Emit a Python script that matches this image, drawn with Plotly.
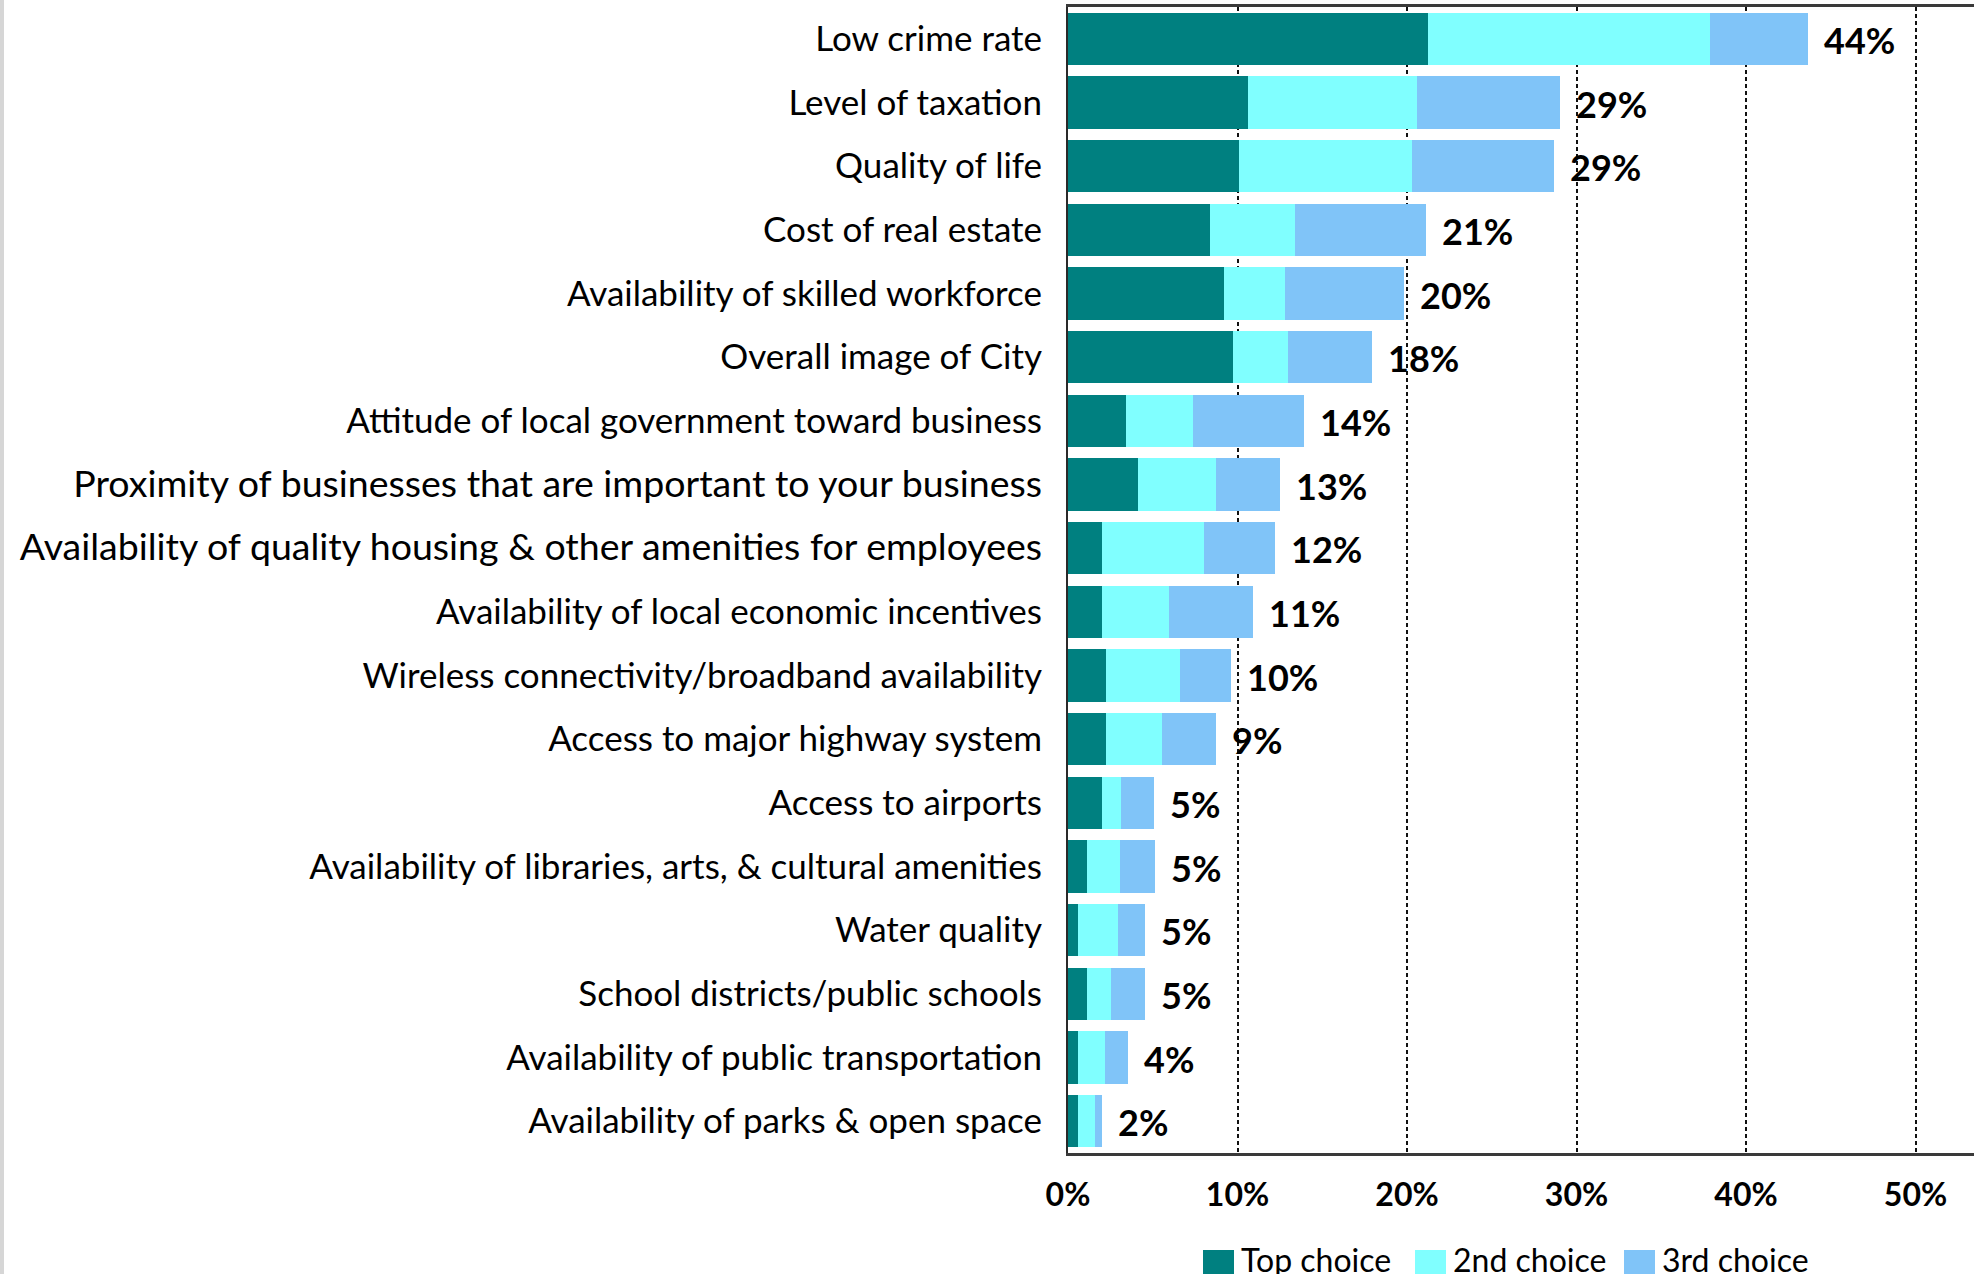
import plotly.graph_objects as go

# Survey: most important factors for business location (share of respondents)
categories = [
    "Low crime rate",
    "Level of taxation",
    "Quality of life",
    "Cost of real estate",
    "Availability of skilled workforce",
    "Overall image of City",
    "Attitude of local government toward business",
    "Proximity of businesses that are important to your business",
    "Availability of quality housing & other amenities for employees",
    "Availability of local economic incentives",
    "Wireless connectivity/broadband availability",
    "Access to major highway system",
    "Access to airports",
    "Availability of libraries, arts, & cultural amenities",
    "Water quality",
    "School districts/public schools",
    "Availability of public transportation",
    "Availability of parks & open space",
]

top_choice = [21.25, 10.6, 10.1, 8.4, 9.2, 9.76, 3.4, 4.13, 2.0, 2.0, 2.22, 2.22, 2.0, 1.12, 0.59, 1.12, 0.59, 0.59]
second_choice = [16.6, 10.0, 10.2, 5.0, 3.6, 3.23, 3.96, 4.62, 6.0, 3.96, 4.38, 3.33, 1.15, 1.94, 2.37, 1.41, 1.61, 0.98]
third_choice = [5.8, 8.4, 8.4, 7.75, 7.0, 4.93, 6.56, 3.78, 4.2, 4.93, 3.02, 3.2, 1.95, 2.06, 1.59, 2.02, 1.35, 0.43]

series_names = ["Top choice", "2nd choice", "3rd choice"]
series_colors = ["#008080", "#80FFFF", "#80C4F8"]
x_ticks = [0, 10, 20, 30, 40, 50]

# two long labels are set in a slightly larger size
large_labels = {
    "Proximity of businesses that are important to your business",
    "Availability of quality housing & other amenities for employees",
}

totals = [a + b + c for a, b, c in zip(top_choice, second_choice, third_choice)]

W, H = 1974, 1274
L, R, T, B = 1068, 0, 7, 121
plot_w = W - L - R
plot_h = H - T - B
px_per_pct = 16.95
x_max = plot_w / px_per_pct

FONT = "Lato"
TXT = "#000000"

fig = go.Figure()
for name, vals, col in zip(series_names, [top_choice, second_choice, third_choice], series_colors):
    fig.add_trace(go.Bar(
        y=categories, x=vals, name=name, orientation="h",
        marker=dict(color=col, line=dict(width=0)),
        showlegend=False,
    ))

# total labels to the right of each stacked bar
for cat, tot in zip(categories, totals):
    fig.add_annotation(
        x=tot, y=cat, xref="x", yref="y",
        text=f"{tot:.0f}%", showarrow=False,
        xanchor="left", yanchor="middle", xshift=14, yshift=-1,
        font=dict(family=FONT, size=36, color=TXT, weight="bold"),
    )


def to_paper_x(px):
    return (px - L) / plot_w


def to_paper_y(py):
    return (H - B - py) / plot_h


# legend row along the bottom
legend_x = [1203, 1415, 1624]
for name, col, lx in zip(series_names, series_colors, legend_x):
    fig.add_shape(
        type="rect", xref="paper", yref="paper",
        x0=to_paper_x(lx), x1=to_paper_x(lx + 31),
        y0=to_paper_y(1250), y1=to_paper_y(1274),
        fillcolor=col, line=dict(width=0), layer="above",
    )
    fig.add_annotation(
        x=to_paper_x(lx + 36), y=to_paper_y(1259), xref="paper", yref="paper",
        text=name, showarrow=False, xanchor="left", yanchor="middle",
        font=dict(family=FONT, size=32, color=TXT),
    )

# thin grey strip on the far left edge
fig.add_shape(
    type="rect", xref="paper", yref="paper",
    x0=to_paper_x(0), x1=to_paper_x(4),
    y0=to_paper_y(H), y1=to_paper_y(0),
    fillcolor="#d6d6d6", line=dict(width=0), layer="above",
)

y_ticktext = [
    f'<span style="font-size:37.5px">{c}</span>' if c in large_labels else c
    for c in categories
]

fig.update_layout(
    width=W, height=H,
    barmode="stack", bargap=0.174,
    margin=dict(l=L, r=R, t=T, b=B, autoexpand=False),
    paper_bgcolor="white", plot_bgcolor="white",
    font=dict(family=FONT, color=TXT),
    showlegend=False,
)

fig.update_xaxes(
    range=[0, x_max], tickvals=x_ticks, ticktext=[f"{v}%" for v in x_ticks],
    showgrid=True, gridcolor="#111111", gridwidth=1.5, griddash="4px,3px",
    showline=True, linecolor="#3a3a3a", linewidth=2.5, mirror=True,
    zeroline=False, ticks="", ticklabelstandoff=12,
    tickfont=dict(family=FONT, size=32, color=TXT, weight="bold"),
    fixedrange=True,
)
fig.update_yaxes(
    categoryorder="array", categoryarray=categories, autorange="reversed",
    tickvals=categories, ticktext=y_ticktext,
    showgrid=False, showline=True, linecolor="#2a2a2a", linewidth=2,
    ticks="", ticklabelstandoff=17,
    tickfont=dict(family=FONT, size=35, color=TXT),
    fixedrange=True,
)

fig.write_html("out.html")
